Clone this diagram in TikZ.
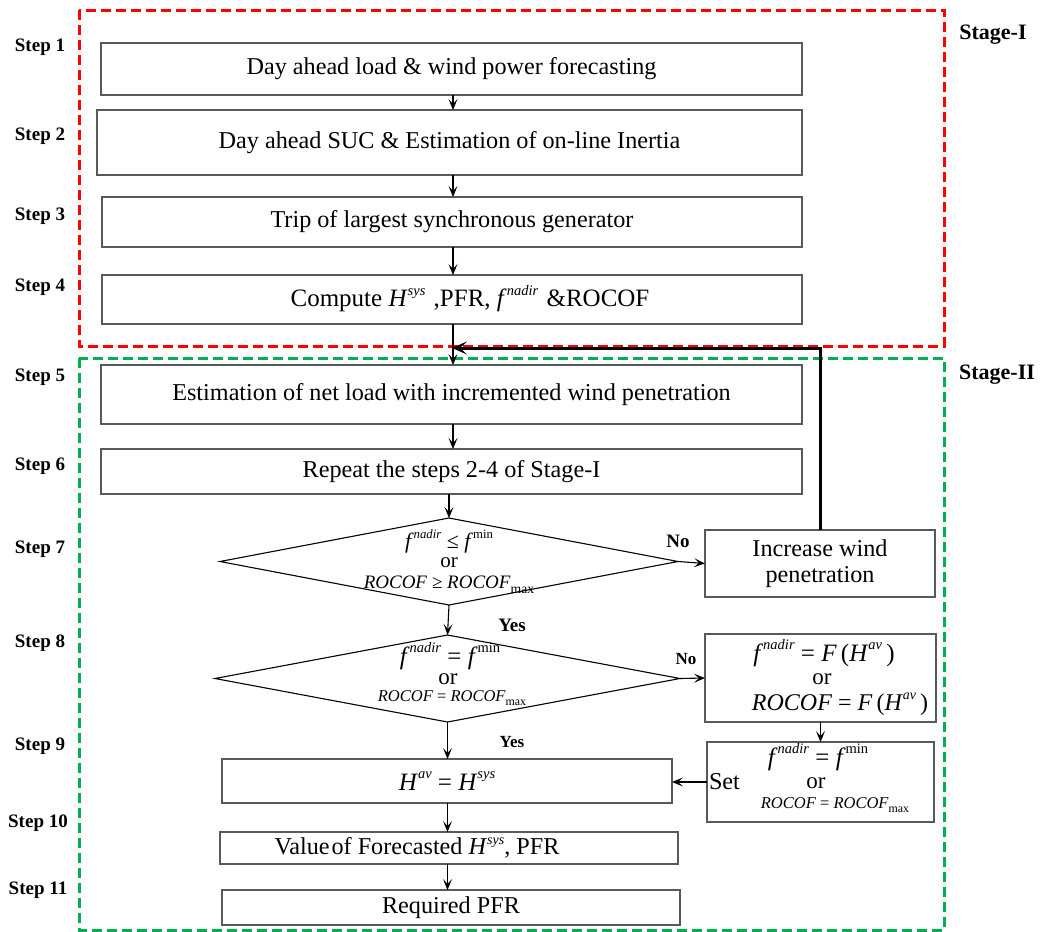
\documentclass[tikz,border=0pt]{standalone}
\usepackage{fontspec}
\usepackage{graphicx}
\setmainfont{Liberation Serif}
\usetikzlibrary{arrows.meta,shapes.geometric}
\definecolor{stagered}{RGB}{255,0,0}
\definecolor{stagegreen}{RGB}{0,176,80}
\newcommand{\Sp}[2]{#1\raisebox{.45em}{\scalebox{0.58}{#2}}}
\newcommand{\Sb}[2]{#1\raisebox{-.25em}{\scalebox{0.72}{#2}}}
\begin{document}
\begin{tikzpicture}[x=1pt,y=-1pt,
  every node/.style={inner sep=0pt, outer sep=0pt},
  box/.style={draw=black!65, line width=1.3pt, fill=white},
  boxtext/.style={font=\fontsize{24.2}{27}\selectfont},
  steplbl/.style={font=\fontsize{19}{22}\selectfont\bfseries},
  stagelbl/.style={font=\fontsize{22}{25}\selectfont\bfseries},
  decision/.style={draw=black, line width=1.1pt, diamond, inner sep=0pt},
  arr/.style={line width=1.1pt, -{Stealth[length=11pt,width=9pt,inset=5pt]}},
  backarr/.style={line width=3pt, -{Stealth[length=15pt,width=13pt,inset=7pt]}},
  frame/.style={line width=3pt, dash pattern=on 10pt off 5pt},
  yn/.style={font=\fontsize{19}{22}\selectfont\bfseries},
  eqbig/.style={font=\fontsize{25}{26}\selectfont},
  ortext/.style={font=\fontsize{23}{24}\selectfont},
  eqsmall/.style={font=\fontsize{16.5}{18}\selectfont}
]
\useasboundingbox (0,0) rectangle (1042,932);

% stage frames
\draw[frame, stagered] (79,10) rectangle (944,346);
\draw[frame, stagegreen] (79,358) rectangle (944,930);
\node[stagelbl] (s1) at (993,35) {Stage-I};
\node[stagelbl] (s2) at (997,375) {Stage-II};

% step labels
\node[steplbl] (st1) at (40,47) {Step 1};
\node[steplbl] (st2) at (40,136) {Step 2};
\node[steplbl] (st3) at (40,216) {Step 3};
\node[steplbl] (st4) at (40,287) {Step 4};
\node[steplbl] (st5) at (40,377) {Step 5};
\node[steplbl] (st6) at (40,466) {Step 6};
\node[steplbl] (st7) at (40,549) {Step 7};
\node[steplbl] (st8) at (40,643) {Step 8};
\node[steplbl] (st9) at (40,746) {Step 9};
\node[steplbl] (st10) at (38,823) {Step 10};
\node[steplbl] (st11) at (38,890) {Step 11};

% main column boxes
\node[box, boxtext, minimum width=701, minimum height=52] (b1) at (451.5,69) {Day ahead load \& wind power forecasting};
\node[box, boxtext, minimum width=705, minimum height=65] (b2) at (449.5,142.5) {Day ahead SUC \& Estimation of on-line Inertia};
\node[box, boxtext, minimum width=700, minimum height=50] (b3) at (452,222) {Trip of largest synchronous generator};
\node[box, minimum width=700, minimum height=49] (b4) at (452,299.5) {};
\node[font=\fontsize{25}{27}\selectfont] (b4t) at (470,299) {Compute \Sp{\textit{H}}{\textit{sys}}\,\,,PFR, \Sp{\textit{f}}{\textit{nadir}}\,\,\&ROCOF};
\node[box, boxtext, minimum width=701, minimum height=59] (b5) at (451.5,394.5) {Estimation of net load with incremented wind penetration};
\node[box, boxtext, minimum width=701, minimum height=45] (b6) at (451.5,471.5) {Repeat the steps 2-4 of Stage-I};

% decision 1
\node[decision, minimum width=458, minimum height=87] (d1) at (449,561.5) {};
\node[font=\fontsize{22}{22}\selectfont] (d1a) at (449,541) {\Sp{\textit{f}}{\textit{nadir}} ≤ \Sp{\textit{f}}{min}};
\node[font=\fontsize{21}{22}\selectfont] (d1b) at (449,563) {or};
\node[font=\fontsize{19}{20}\selectfont] (d1c) at (449,585) {\textit{ROCOF} ≥ \Sb{\textit{ROCOF}}{max}};

% decision 2
\node[decision, minimum width=465, minimum height=87] (d2) at (447.5,678.5) {};
\node[eqbig] (d2a) at (450,656) {\Sp{\textit{f}}{\textit{nadir}} = \Sp{\textit{f}}{min}};
\node[ortext] (d2b) at (448,679) {or};
\node[eqsmall] (d2c) at (452,698) {\textit{ROCOF} = \Sb{\textit{ROCOF}}{max}};

% right-side boxes
\node[box, boxtext, align=center, minimum width=230, minimum height=67] (inc) at (820,563.5) {Increase wind\\[-1pt]penetration};
\node[box, minimum width=231, minimum height=88] (fbox) at (820.5,678) {};
\node[eqbig] (fa) at (824,653) {\Sp{\textit{f}}{\textit{nadir}} = \textit{F}\,(\Sp{\textit{H}}{\textit{av}}\,)};
\node[ortext] (fb2) at (822,679) {or};
\node[font=\fontsize{24}{26}\selectfont] (fc) at (840,704) {\textit{ROCOF} = \textit{F}\,(\Sp{\textit{H}}{\textit{av}}\,)};

\node[box, minimum width=227, minimum height=80] (setb) at (820.5,782) {};
\node[eqbig] (sa) at (818,757) {\Sp{\textit{f}}{\textit{nadir}} = \Sp{\textit{f}}{min}};
\node[ortext] (sb) at (816,783) {or};
\node[eqsmall] (sc) at (835,805) {\textit{ROCOF} = \Sb{\textit{ROCOF}}{max}};
\node[boxtext, anchor=west] (setl) at (709,782) {Set};

% lower column boxes
\node[box, minimum width=450, minimum height=44, font=\fontsize{25}{27}\selectfont] (hbox) at (447,781) {\Sp{\textit{H}}{\textit{av}} = \Sp{\textit{H}}{\textit{sys}}};
\node[box, minimum width=458, minimum height=32] (vbox) at (449,848) {};
\node[boxtext] (vt) at (417,848) {Value\hspace{0.08em}of Forecasted \Sp{\textit{H}}{\textit{sys}}, PFR};
\node[box, boxtext, minimum width=458, minimum height=35] (rbox) at (451,907.5) {Required PFR};

% labels
\node[yn] (no1) at (678,541) {No};
\node[yn] (yes1) at (512,625) {Yes};
\node[yn, font=\fontsize{17}{20}\selectfont\bfseries] (no2) at (686,659) {No};
\node[yn, font=\fontsize{17}{20}\selectfont\bfseries] (yes2) at (512,742) {Yes};

% connectors
\coordinate (mx) at (453,0);
\draw[arr] (b1.south -| mx) -- (b2.north -| mx);
\draw[arr] (b2.south -| mx) -- (b3.north -| mx);
\draw[arr] (b3.south -| mx) -- (b4.north -| mx);
\draw[arr] (b4.south -| mx) -- (b5.north -| mx);
\draw[arr] (b5.south -| mx) -- (b6.north -| mx);
\draw[arr] (b6.south -| d1.north) -- (d1.north);
\draw[arr] (d1.south) -- (d2.north);
\draw[arr] (d1.east) -- (inc.west);
\draw[arr] (d2.east) -- (fbox.west);
\draw[arr] (d2.south) -- (hbox.north -| d2.south);
\draw[arr] (fbox.south) -- (setb.north);
\draw[arr] (setb.west) -- (setb.west -| hbox.east);
\draw[arr] (hbox.south -| d2.south) -- (vbox.north -| d2.south);
\draw[arr] (vbox.south -| d2.south) -- (rbox.north -| d2.south);
\coordinate (fbk) at (452,348);
\draw[backarr] (inc.north) |- (fbk);
\end{tikzpicture}
\end{document}
